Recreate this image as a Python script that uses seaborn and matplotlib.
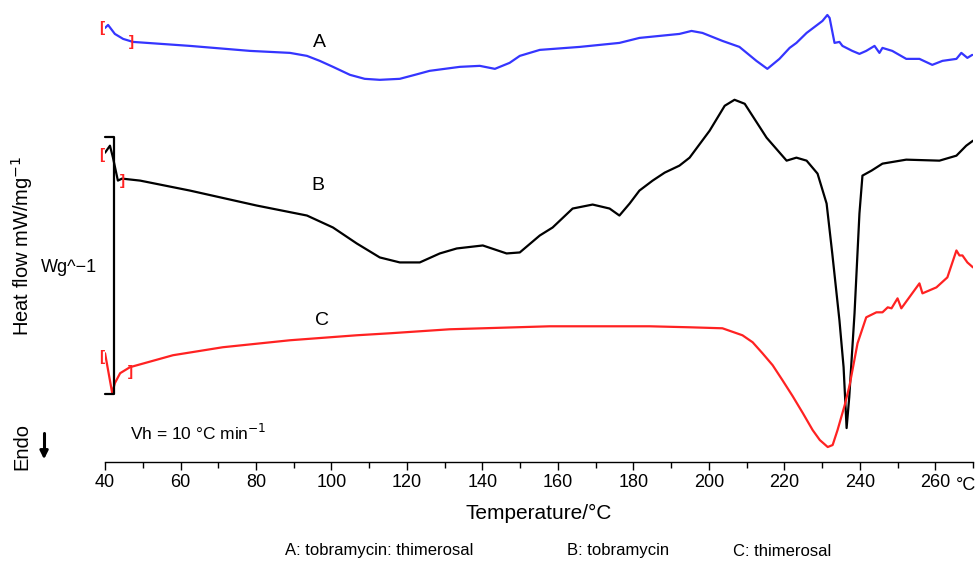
import numpy as np
import pandas as pd
import seaborn as sns
import matplotlib.pyplot as plt
from matplotlib.ticker import MultipleLocator

# DSC traces (temperature in degC, heat flow in arbitrary offset units)
temp_a = [40.0, 40.8, 42.6, 44.8, 47.4, 62.5, 78.4, 89.0, 93.5, 96.9, 100.4, 104.9,
          108.8, 112.8, 118.1, 122.1, 126.0, 134.0, 139.3, 143.3, 147.2, 149.9, 155.2,
          165.8, 176.3, 181.6, 186.9, 192.2, 195.4, 198.3, 203.6, 208.1, 212.6, 215.5,
          218.7, 221.4, 223.2, 225.9, 230.1, 231.4, 232.0, 233.3, 234.6, 235.4, 238.0,
          239.9, 241.7, 243.9, 245.2, 246.0, 248.6, 252.3, 255.8, 259.2, 261.9, 265.6,
          266.9, 268.5, 269.8]
flow_a = [44.3, 44.6, 43.7, 43.2, 42.9, 42.5, 42.0, 41.8, 41.5, 41.0, 40.4, 39.6,
          39.2, 39.1, 39.2, 39.6, 40.0, 40.4, 40.5, 40.2, 40.8, 41.5, 42.1,
          42.4, 42.8, 43.3, 43.5, 43.7, 44.0, 43.8, 43.0, 42.4, 41.0, 40.2,
          41.2, 42.3, 42.8, 43.8, 45.0, 45.6, 45.3, 42.8, 42.9, 42.5, 42.0,
          41.7, 42.0, 42.5, 41.8, 42.3, 42.0, 41.2, 41.2, 40.6, 41.0, 41.2,
          41.8, 41.3, 41.6]

temp_b = [40.0, 41.3, 42.1, 43.4, 44.5, 49.3, 62.5, 80.2, 93.5, 100.4, 106.7, 112.8,
          118.1, 123.4, 128.7, 133.2, 140.1, 146.4, 149.9, 155.2, 158.6, 163.9, 169.2,
          173.7, 176.3, 179.0, 181.6, 185.1, 188.3, 192.2, 194.9, 200.2, 204.2, 206.8,
          209.5, 215.3, 220.6, 223.2, 225.9, 228.8, 231.2, 232.7, 234.6, 235.7, 236.5,
          237.2, 238.6, 239.9, 240.7, 243.1, 246.0, 252.3, 261.1, 265.6, 268.2, 270.0]
flow_b = [31.8, 32.5, 31.3, 29.0, 29.2, 29.0, 28.0, 26.5, 25.5, 24.3, 22.7, 21.3,
          20.8, 20.8, 21.7, 22.2, 22.5, 21.7, 21.8, 23.5, 24.3, 26.2, 26.6,
          26.2, 25.5, 26.7, 28.0, 29.0, 29.8, 30.5, 31.3, 34.0, 36.5, 37.1,
          36.7, 33.3, 31.0, 31.3, 31.0, 29.7, 26.7, 21.7, 15.0, 10.3, 4.2,
          7.3, 15.7, 25.7, 29.5, 30.0, 30.7, 31.1, 31.0, 31.5, 32.5, 33.0]

temp_c = [40.0, 41.9, 42.6, 44.0, 46.6, 58.0, 71.2, 89.0, 106.7, 115.5, 131.3, 157.8,
          184.3, 194.9, 203.6, 208.9, 211.6, 214.2, 216.9, 219.5, 222.2, 224.9, 227.5,
          229.4, 231.5, 232.8, 234.1, 236.0, 237.3, 239.4, 241.7, 244.4, 246.0, 247.4,
          248.4, 250.0, 251.0, 255.8, 256.6, 260.3, 263.2, 265.6, 266.4, 267.2, 268.5,
          270.0]
flow_c = [11.7, 7.7, 8.7, 9.7, 10.3, 11.5, 12.3, 13.0, 13.5, 13.7, 14.1, 14.4,
          14.4, 14.3, 14.2, 13.5, 12.8, 11.7, 10.5, 9.0, 7.4, 5.7, 4.0,
          3.0, 2.3, 2.5, 4.0, 6.5, 8.5, 12.7, 15.3, 15.8, 15.8, 16.3,
          16.2, 17.2, 16.2, 18.7, 17.7, 18.3, 19.3, 22.0, 21.5, 21.5, 20.8,
          20.3]

curve_labels = ["A", "B", "C"]
curve_colors = ["#3535ff", "black", "#ff2222"]
legend_texts = ["A: tobramycin: thimerosal", "B: tobramycin", "C: thimerosal"]
tick_labels = ["40", "60", "80", "100", "120", "140", "160", "180", "200", "220", "240", "260"]

sns.set_style("white")
plt.rcParams["font.family"] = ["Liberation Sans", "DejaVu Sans"]
plt.rcParams["text.color"] = "black"
plt.rcParams["xtick.color"] = "black"
plt.rcParams["axes.labelcolor"] = "black"
plt.rcParams["axes.edgecolor"] = "black"

df = pd.concat([
    pd.DataFrame({"Temperature": temp_a, "Heat flow": flow_a, "Sample": "A"}),
    pd.DataFrame({"Temperature": temp_b, "Heat flow": flow_b, "Sample": "B"}),
    pd.DataFrame({"Temperature": temp_c, "Heat flow": flow_c, "Sample": "C"}),
])

fig = plt.figure(figsize=(9.79, 5.67), dpi=100)
ax = fig.add_axes([0.1073, 0.1852, 0.8866, 0.806])

sns.lineplot(data=df, x="Temperature", y="Heat flow", hue="Sample", sort=False,
             palette=dict(zip(curve_labels, curve_colors)), linewidth=1.6,
             legend=False, ax=ax)
for line in ax.lines:
    line.set_solid_joinstyle("round")

ax.set_xlim(40, 270)
ax.set_ylim(0.8, 46.6)
sns.despine(ax=ax, left=True)
ax.spines["bottom"].set_linewidth(1.0)
ax.set_yticks([])
ax.xaxis.set_major_locator(MultipleLocator(20))
ax.xaxis.set_minor_locator(MultipleLocator(10))
ax.set_xticks(np.arange(40, 261, 20))
ax.set_xticklabels(tick_labels)
ax.tick_params(axis="x", which="major", direction="out", length=6, width=1.0,
               pad=3, labelsize=13, bottom=True)
ax.tick_params(axis="x", which="minor", direction="out", length=4.5, width=1.0, bottom=True)
ax.set_xlabel("Temperature/°C", fontsize=15, labelpad=9)
ax.set_ylabel("")

# curve letters
ax.text(96.9, 42.8, "A", fontsize=14, ha="center", va="center")
ax.text(96.4, 28.5, "B", fontsize=14, ha="center", va="center")
ax.text(97.5, 15.0, "C", fontsize=14, ha="center", va="center")

# red integration brackets
for tx, fy, s in [(39.2, 44.3, "["), (47.1, 42.9, "]"), (39.2, 31.6, "["),
                  (44.5, 29.0, "]"), (39.2, 11.3, "["), (46.6, 9.8, "]")]:
    ax.text(tx, fy, s, color="#ff2222", fontsize=11, fontweight="bold",
            ha="center", va="center", clip_on=False)

# scale bar
ax.plot([40.0, 42.4, 42.4, 40.0], [33.4, 33.4, 7.6, 7.6], color="black",
        linewidth=1.6, clip_on=False)
fig.text(0.099, 1 - 268 / 567, "Wg^\u22121", fontsize=13, ha="right", va="center")

ax.text(46.6, 3.7, "Vh = 10 °C min$^{-1}$", fontsize=12.5, ha="left", va="center")

fig.text(0.0225, 1 - 246 / 567, "Heat flow mW/mg$^{-1}$", rotation=90,
         fontsize=14.5, ha="center", va="center")
fig.text(0.0225, 1 - 447 / 567, "Endo", rotation=90, fontsize=14.5, ha="center", va="center")
fig.add_artist(plt.Line2D([0.045, 0.045], [1 - 433 / 567, 1 - 452 / 567],
                          color="black", linewidth=2.2, transform=fig.transFigure))
ax.annotate("", xy=(0.045, 1 - 462 / 567), xytext=(0.045, 1 - 448 / 567),
            xycoords="figure fraction", textcoords="figure fraction",
            arrowprops=dict(arrowstyle="-|>", color="black", lw=2.0, mutation_scale=12))

fig.text(0.997, 1 - 485 / 567, "°C", fontsize=13, ha="right", va="center")

for xpos, txt in zip([0.291, 0.579, 0.749], legend_texts):
    fig.text(xpos, 1 - 551 / 567, txt, fontsize=12, ha="left", va="center")

fig.savefig("out.png", dpi=100)
